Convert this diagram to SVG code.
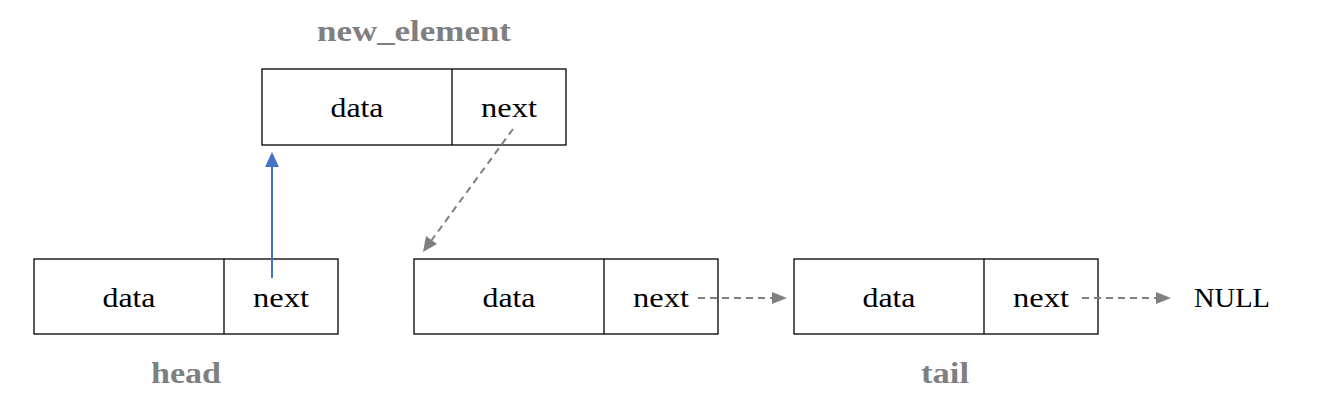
<svg xmlns="http://www.w3.org/2000/svg" width="1323" height="410" viewBox="0 0 1323 410">
<style>
.box{fill:#fff;stroke:#000;stroke-width:1.3}
.t{font-family:"Liberation Serif",serif;font-size:28px;fill:#000;text-anchor:middle}
.lbl{font-family:"Liberation Serif",serif;font-size:30px;font-weight:bold;fill:#7f7f7f;text-anchor:middle}
.dash{stroke:#7f7f7f;stroke-width:2;stroke-dasharray:7,5;fill:none}
</style>
<rect width="1323" height="410" fill="#fff"/>
<g id="new_element">
<rect class="box" x="262" y="69" width="304" height="76"/>
<line x1="452" y1="69" x2="452" y2="145" stroke="#000" stroke-width="1.3"/>
<text class="t" x="357" y="117" textLength="53" lengthAdjust="spacingAndGlyphs">data</text>
<text class="t" x="509" y="117" textLength="56" lengthAdjust="spacingAndGlyphs">next</text>
<text class="lbl" x="414" y="41" textLength="194" lengthAdjust="spacingAndGlyphs">new_element</text>
</g>
<g id="head">
<rect class="box" x="34" y="259" width="304" height="75"/>
<line x1="224" y1="259" x2="224" y2="334" stroke="#000" stroke-width="1.3"/>
<text class="t" x="129" y="307" textLength="53" lengthAdjust="spacingAndGlyphs">data</text>
<text class="t" x="281" y="307" textLength="56" lengthAdjust="spacingAndGlyphs">next</text>
<text class="lbl" x="186" y="383" textLength="70" lengthAdjust="spacingAndGlyphs">head</text>
</g>
<g id="node2">
<rect class="box" x="414" y="259" width="304" height="75"/>
<line x1="604" y1="259" x2="604" y2="334" stroke="#000" stroke-width="1.3"/>
<text class="t" x="509" y="307" textLength="53" lengthAdjust="spacingAndGlyphs">data</text>
<text class="t" x="661" y="307" textLength="56" lengthAdjust="spacingAndGlyphs">next</text>
</g>
<g id="tail">
<rect class="box" x="794" y="259" width="304" height="75"/>
<line x1="984" y1="259" x2="984" y2="334" stroke="#000" stroke-width="1.3"/>
<text class="t" x="889" y="307" textLength="53" lengthAdjust="spacingAndGlyphs">data</text>
<text class="t" x="1041" y="307" textLength="56" lengthAdjust="spacingAndGlyphs">next</text>
<text class="lbl" x="945" y="383" textLength="48" lengthAdjust="spacingAndGlyphs">tail</text>
</g>
<g id="null">
<text class="t" x="1232" y="307" textLength="76" lengthAdjust="spacingAndGlyphs">NULL</text>
</g>
<g id="connectors">
<line x1="272" y1="278" x2="272" y2="166" stroke="#4472c4" stroke-width="2"/>
<path d="M272,152 L265,167 L279,167 z" fill="#4472c4"/>
<line class="dash" x1="513" y1="129" x2="431" y2="241"/>
<path d="M423,252 L426,236 L437,244 z" fill="#7f7f7f"/>
<line class="dash" x1="698" y1="298" x2="774" y2="298"/>
<path d="M787,298 L772,292 L772,304 z" fill="#7f7f7f"/>
<line class="dash" x1="1082" y1="298" x2="1158" y2="298"/>
<path d="M1171,298 L1156,292 L1156,304 z" fill="#7f7f7f"/>
</g>
</svg>
